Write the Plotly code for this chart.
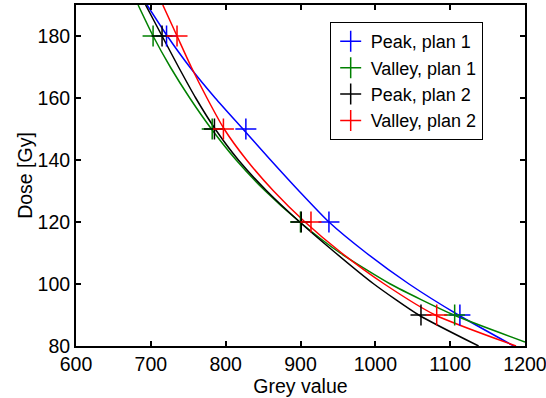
import plotly.graph_objects as go

# Marker data (dose levels and grey values)
dose_pts = [180, 150, 120, 90]
peak1_x = [721, 827, 938, 1113]
valley1_x = [703, 782, 900, 1106]
peak2_x = [715, 785, 901, 1061]
valley2_x = [735, 797, 914, 1082]

# Fitted curves (grey value, dose)
curve_dose = [190, 180, 170, 160, 150, 140, 130, 120, 110, 100, 90, 80]
peak1_curve_x = [695, 722, 752, 786, 823, 860, 898, 938, 988, 1045, 1111, 1185]
valley1_curve_x = [683, 703, 726, 752, 781, 814, 853, 899, 953, 1020, 1105, 1200]
valley1_curve_dose = [190, 180, 170, 160, 150, 140, 130, 120, 110, 100, 90, 81.3]
peak2_curve_x = [693, 715, 737, 760, 786, 817, 855, 899, 947, 998, 1058, 1138]
valley2_curve_x = [716, 735, 754, 775, 798, 828, 864, 906, 955, 1012, 1080, 1188]

names = ["Peak, plan 1", "Valley, plan 1", "Peak, plan 2", "Valley, plan 2"]
colors = ["#0000ff", "#008000", "#000000", "#ff0000"]

x_ticks = [600, 700, 800, 900, 1000, 1100, 1200]
y_ticks = [80, 100, 120, 140, 160, 180]

fig = go.Figure()

curves = [
    (peak1_curve_x, curve_dose),
    (valley1_curve_x, valley1_curve_dose),
    (peak2_curve_x, curve_dose),
    (valley2_curve_x, curve_dose),
]
markers = [peak1_x, valley1_x, peak2_x, valley2_x]

for (cx, cy), c in zip(curves, colors):
    fig.add_trace(go.Scatter(x=cx, y=cy, mode="lines",
                             line=dict(color=c, width=1.5, shape="spline", smoothing=0.6),
                             showlegend=False, hoverinfo="skip"))

for mx, name, c in zip(markers, names, colors):
    fig.add_trace(go.Scatter(x=mx, y=dose_pts, mode="markers", name=name,
                             marker=dict(symbol="cross-thin", size=15,
                                         line=dict(color=c, width=1.5), color=c)))

FS = 19.5
axis_common = dict(
    showline=True, linecolor="black", linewidth=2, mirror="ticks",
    ticks="inside", ticklen=5, tickwidth=2, tickcolor="black",
    showgrid=False, zeroline=False, automargin=False,
    ticklabeloverflow="allow",
    tickfont=dict(size=FS, color="black"),
)

fig.update_layout(
    width=546, height=398,
    margin=dict(l=76, r=21, t=5, b=52),
    paper_bgcolor="white", plot_bgcolor="white",
    font=dict(family="Liberation Sans, Arial, sans-serif", size=FS, color="black"),
    xaxis=dict(range=[600, 1200], tickvals=x_ticks,
               title=dict(text="Grey value", font=dict(size=FS), standoff=0),
               **axis_common),
    yaxis=dict(range=[80, 190], tickvals=y_ticks,
               title=dict(text="Dose [Gy]", font=dict(size=FS), standoff=0),
               **axis_common),
    legend=dict(x=0.565, y=0.95, xanchor="left", yanchor="top",
                bordercolor="black", borderwidth=1, bgcolor="white",
                font=dict(size=18), itemwidth=30, tracegroupgap=0),
)

fig.write_html("out.html")
